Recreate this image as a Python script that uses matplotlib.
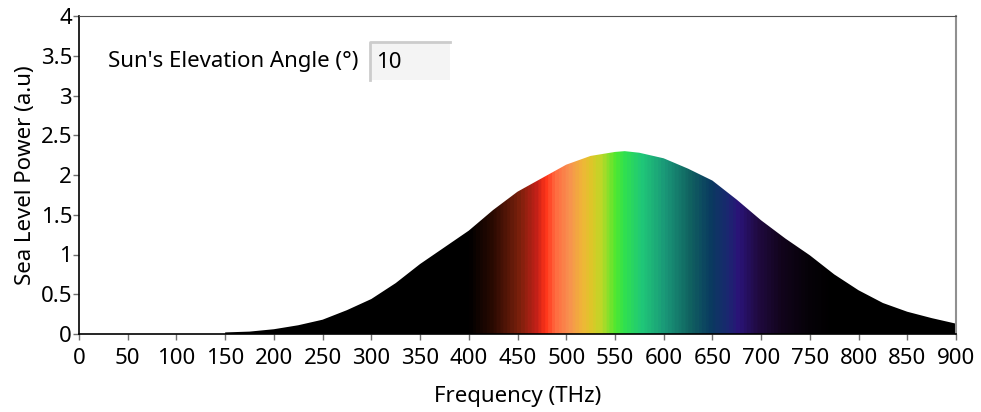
import numpy as np
import matplotlib
matplotlib.use("Agg")
import matplotlib.pyplot as plt
from matplotlib.colors import LinearSegmentedColormap
from matplotlib.patches import Polygon, Rectangle

# sea level power (THz, a.u.)
freq = [0, 149.9, 150, 175, 200, 225, 250, 275, 300, 325, 350, 375, 400, 425,
        450, 475, 500, 525, 550, 560, 575, 600, 625, 650, 675, 700, 725, 750,
        775, 800, 825, 850, 875, 900]
power = [0, 0, 0.02, 0.03, 0.06, 0.11, 0.18, 0.30, 0.44, 0.64, 0.88, 1.09, 1.30,
         1.56, 1.79, 1.96, 2.13, 2.24, 2.29, 2.30, 2.28, 2.21, 2.08, 1.93, 1.69,
         1.43, 1.20, 0.99, 0.75, 0.55, 0.39, 0.28, 0.20, 0.13]

# colour of the fill along the frequency axis
stop_freq = [0, 400, 425, 452, 469, 479, 489, 503, 517, 527, 537, 551, 561, 578,
             602, 629, 650, 667, 678, 698, 722, 750, 775, 900]
stop_col = ["#000000", "#000000", "#2a0a02", "#7a200c", "#c02018", "#ff3318",
            "#ff6a40", "#f89050", "#f0b638", "#dcc828", "#bcd828", "#50e830",
            "#30e050", "#20c878", "#1a9878", "#106060", "#0a3a60", "#1a2870",
            "#2a1478", "#200a40", "#12041c", "#060208", "#000000", "#000000"]

elev_label = "Sun's Elevation Angle (°)"
elev_value = "10"

plt.rcParams['font.family'] = ['Noto Sans', 'DejaVu Sans']
fs = 16

fig = plt.figure(figsize=(9.81, 4.12), dpi=100)
ax = fig.add_axes([79 / 981, 78 / 412, 877 / 981, 318 / 412])

cmap = LinearSegmentedColormap.from_list(
    "spec", list(zip(np.array(stop_freq) / 900.0, stop_col)))
grad = np.linspace(0, 900, 901)[None, :]
img = ax.imshow(grad, cmap=cmap, vmin=0, vmax=900, extent=[0, 900, 0, 4],
                aspect="auto", origin="lower", interpolation="bilinear")

verts = list(zip(freq, power)) + [(900, 0), (0, 0)]
clip = Polygon(verts, closed=True, facecolor="none", edgecolor="none")
ax.add_patch(clip)
img.set_clip_path(clip)

ax.set_xlim(0, 900)
ax.set_ylim(0, 4)
ax.set_xticks(np.arange(0, 901, 50))
ax.set_yticks(np.arange(0, 4.01, 0.5))
ax.set_yticklabels(["0", "0.5", "1", "1.5", "2", "2.5", "3", "3.5", "4"])
ax.tick_params(direction="out", length=4, width=1, color="#707070",
               labelsize=fs, pad=1)
ax.tick_params(axis="x", pad=6)
ax.set_xlabel("Frequency (THz)", fontsize=fs, labelpad=12)
ax.set_ylabel("Sea Level Power (a.u)", fontsize=fs, labelpad=3)

ax.spines["left"].set_color("black")
ax.spines["bottom"].set_color("black")
ax.spines["left"].set_linewidth(1.2)
ax.spines["bottom"].set_linewidth(1.2)
ax.spines["top"].set_color("#505050")
ax.spines["right"].set_color("#909090")
ax.spines["right"].set_linewidth(1.5)

# elevation angle control
fig.text(108 / 981, 1 - 62 / 412, elev_label, fontsize=fs, va="center", ha="left")
fig.patches.append(Rectangle((370 / 981, 1 - 80 / 412), 80 / 981, 38 / 412,
                             transform=fig.transFigure, facecolor="#f4f4f4",
                             edgecolor="none"))
fig.add_artist(plt.Line2D([370 / 981, 370 / 981, 450 / 981],
                          [1 - 80 / 412, 1 - 42 / 412, 1 - 42 / 412],
                          transform=fig.transFigure, color="#cccccc", lw=2))
fig.text(376 / 981, 1 - 63 / 412, elev_value, fontsize=fs, va="center", ha="left")

fig.savefig("out.png", dpi=100)
